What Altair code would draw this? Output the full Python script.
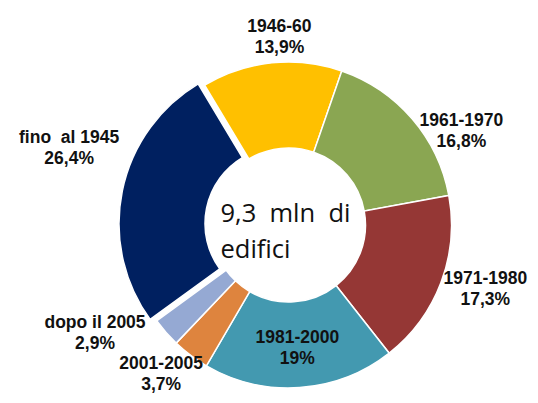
import altair as alt
import pandas as pd
import math

# ---- data ----
categories = ["fino\u00a0 al 1945", "1946-60", "1961-1970", "1971-1980",
              "1981-2000", "2001-2005", "dopo il 2005"]
values = [26.4, 13.9, 16.8, 17.3, 19.0, 3.7, 2.9]
pct_labels = ["26,4%", "13,9%", "16,8%", "17,3%", "19%", "3,7%", "2,9%"]
colors = ["#002060", "#FFC000", "#8AA652", "#953735",
          "#4399B0", "#DE843E", "#95A9D3"]
center_text = "9,3\u00a0 mln\u00a0 di\nedifici"

df = pd.DataFrame({
    "cat": categories,
    "value": values,
    "idx": list(range(len(categories))),
    "label": [f"{c}\n{p}" for c, p in zip(categories, pct_labels)],
})

start = math.radians(234)
theta_scale = alt.Scale(domain=[0, 100], range=[start, start + 2 * math.pi])
color_scale = alt.Scale(domain=categories, range=colors)

base = alt.Chart(df).transform_window(
    cum_end="sum(value)", sort=[alt.SortField("idx")]
).transform_calculate(
    cum_start="datum.cum_end - datum.value",
    mid="datum.cum_end - datum.value / 2",
)

arc_enc = dict(
    theta=alt.Theta("cum_start:Q", scale=theta_scale),
    theta2="cum_end:Q",
    color=alt.Color("cat:N", scale=color_scale, legend=None),
)

exploded = categories[0]

arcs = base.transform_filter(alt.datum.cat != exploded).mark_arc(
    radius=163, radius2=77, stroke="white", strokeWidth=1.5
).encode(**arc_enc)

arc_explode = base.transform_filter(alt.datum.cat == exploded).mark_arc(
    radius=163, radius2=77, stroke="white", strokeWidth=1.5,
    xOffset=-6.5, yOffset=-1.4
).encode(**arc_enc)

# label placement (radius, dx, dy) per category; dy points at the first line
label_pos = {
    categories[0]: (230, 6, -41),
    categories[1]: (184, 10, -15),
    categories[2]: (195, 25, 23),
    categories[3]: (220, -9, -24),
    categories[4]: (128, 0, -15),
    categories[5]: (212, 0, -31),
    categories[6]: (224, -25, -50),
}

label_layers = []
for c in categories:
    r, dx, dy = label_pos[c]
    label_layers.append(
        base.transform_filter(alt.datum.cat == c).mark_text(
            radius=r, dx=dx, dy=dy, font="Liberation Sans", fontSize=17.5,
            fontWeight="bold", color="#111111", align="center",
            baseline="middle", lineBreak="\n", lineHeight=21
        ).encode(theta=alt.Theta("mid:Q", scale=theta_scale), text="label:N")
    )

center = alt.Chart(pd.DataFrame({"t": [center_text]})).mark_text(
    font="Open Sans", fontSize=25.5, color="#111111", align="left",
    baseline="alphabetic", dx=-68, dy=-3, lineBreak="\n", lineHeight=36
).encode(text="t:N")

chart = alt.layer(arcs, arc_explode, *label_layers, center).properties(
    width=522, height=387,
    autosize=alt.AutoSizeParams(type="fit", contains="padding"),
    padding={"left": 50, "top": 33, "right": 20, "bottom": 0},
).configure_view(stroke=None)

chart.save("out.html", embed_options={"renderer": "svg", "actions": False})
